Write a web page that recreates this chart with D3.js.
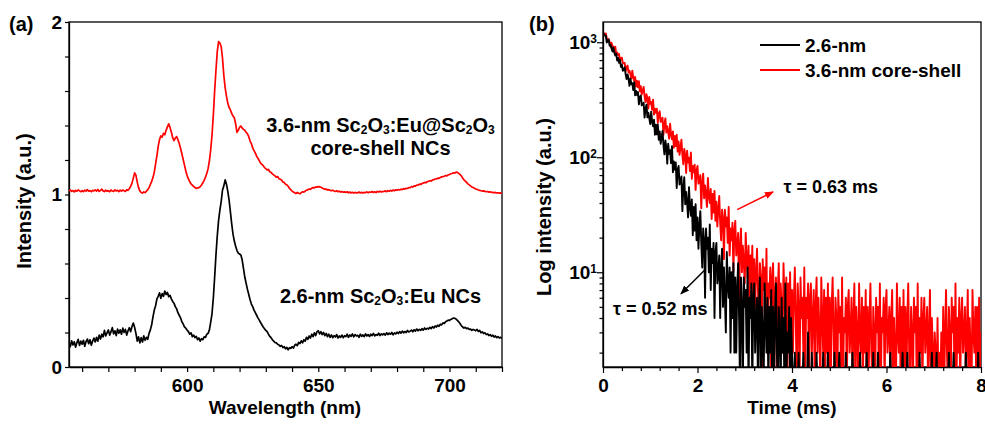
<!DOCTYPE html>
<html>
<head>
<meta charset="utf-8">
<script src="https://cdn.jsdelivr.net/npm/d3@7"></script>
<style>
  body { margin: 0; background: #fff; }
  svg { font-family: "Liberation Sans", Arial, sans-serif; font-weight: bold; }
</style>
</head>
<body>
<svg id="chart" width="985" height="425"></svg>
<script>
// ---------- (a) emission spectra, 0.5 nm sampling from 555 nm ----------
const wlStart = 555, wlStep = 0.5;
const emissionCoreShell = [
  1.020,1.026,1.018,1.023,1.015,1.024,1.019,1.027,1.021,1.016,
  1.022,1.017,1.025,1.020,1.028,1.019,1.023,1.016,1.024,1.021,
  1.027,1.020,1.029,1.018,1.024,1.031,1.021,1.017,1.025,1.019,
  1.023,1.016,1.026,1.020,1.018,1.027,1.021,1.024,1.017,1.025,
  1.020,1.026,1.022,1.018,1.028,1.024,1.035,1.048,1.066,1.095,
  1.125,1.112,1.072,1.040,1.021,1.012,1.008,1.015,1.011,1.019,
  1.028,1.040,1.058,1.076,1.098,1.130,1.178,1.226,1.280,1.318,
  1.340,1.332,1.355,1.346,1.372,1.392,1.410,1.388,1.362,1.330,
  1.312,1.326,1.336,1.318,1.296,1.268,1.236,1.204,1.170,1.138,
  1.110,1.090,1.074,1.062,1.054,1.046,1.041,1.035,1.038,1.040,
  1.045,1.055,1.068,1.082,1.100,1.122,1.150,1.195,1.260,1.345,
  1.460,1.600,1.720,1.830,1.886,1.878,1.857,1.790,1.690,1.620,
  1.570,1.530,1.505,1.490,1.470,1.455,1.445,1.410,1.360,1.372,
  1.390,1.397,1.385,1.378,1.372,1.360,1.352,1.335,1.310,1.295,
  1.270,1.255,1.240,1.222,1.210,1.196,1.182,1.175,1.168,1.156,
  1.150,1.142,1.146,1.132,1.128,1.120,1.114,1.108,1.100,1.104,
  1.092,1.088,1.084,1.072,1.070,1.060,1.056,1.048,1.036,1.028,
  1.020,1.014,1.010,1.006,1.012,1.007,1.004,1.011,1.016,1.014,
  1.020,1.024,1.028,1.032,1.030,1.036,1.040,1.038,1.044,1.042,
  1.046,1.044,1.042,1.038,1.034,1.030,1.032,1.026,1.028,1.024,
  1.022,1.025,1.020,1.018,1.022,1.016,1.019,1.014,1.017,1.013,
  1.015,1.012,1.016,1.010,1.014,1.009,1.013,1.008,1.012,1.010,
  1.010,1.014,1.009,1.013,1.008,1.012,1.011,1.015,1.010,1.014,
  1.013,1.017,1.012,1.016,1.011,1.018,1.014,1.019,1.015,1.017,
  1.018,1.021,1.016,1.022,1.019,1.024,1.020,1.026,1.022,1.027,
  1.025,1.029,1.026,1.031,1.028,1.034,1.031,1.036,1.035,1.040,
  1.040,1.046,1.043,1.050,1.048,1.055,1.054,1.060,1.058,1.064,
  1.066,1.070,1.068,1.074,1.077,1.080,1.078,1.084,1.086,1.090,
  1.090,1.095,1.094,1.099,1.102,1.104,1.106,1.110,1.108,1.114,
  1.116,1.120,1.122,1.126,1.124,1.130,1.128,1.122,1.116,1.108,
  1.096,1.085,1.078,1.070,1.062,1.056,1.050,1.044,1.040,1.036,
  1.032,1.030,1.026,1.024,1.022,1.020,1.021,1.018,1.016,1.017,
  1.014,1.016,1.012,1.013,1.010,1.012,1.009,1.010,1.008,1.009,
  1.007
];
const emissionCore = [
  0.137,0.118,0.152,0.128,0.146,0.115,0.140,0.160,0.125,0.150,
  0.132,0.155,0.120,0.148,0.162,0.135,0.158,0.126,0.150,0.168,
  0.145,0.172,0.150,0.185,0.162,0.190,0.175,0.212,0.180,0.198,
  0.215,0.185,0.205,0.228,0.192,0.210,0.182,0.220,0.196,0.215,
  0.190,0.225,0.200,0.218,0.185,0.210,0.228,0.205,0.235,0.255,
  0.230,0.195,0.150,0.175,0.140,0.170,0.145,0.180,0.155,0.172,
  0.160,0.195,0.215,0.245,0.290,0.330,0.355,0.395,0.410,0.430,
  0.398,0.425,0.410,0.440,0.420,0.432,0.408,0.415,0.395,0.380,
  0.370,0.350,0.338,0.315,0.300,0.285,0.262,0.250,0.232,0.225,
  0.214,0.205,0.190,0.198,0.176,0.185,0.170,0.178,0.158,0.168,
  0.150,0.165,0.158,0.175,0.172,0.190,0.195,0.215,0.260,0.310,
  0.400,0.520,0.650,0.760,0.850,0.910,0.960,1.026,1.050,1.085,
  1.060,1.020,0.968,0.900,0.830,0.770,0.730,0.700,0.675,0.660,
  0.655,0.649,0.620,0.570,0.520,0.485,0.450,0.420,0.390,0.365,
  0.350,0.330,0.315,0.300,0.285,0.272,0.258,0.245,0.232,0.222,
  0.212,0.205,0.190,0.178,0.170,0.158,0.150,0.142,0.140,0.132,
  0.128,0.120,0.125,0.112,0.118,0.105,0.114,0.100,0.112,0.108,
  0.118,0.110,0.126,0.132,0.124,0.142,0.136,0.152,0.140,0.158,
  0.150,0.172,0.160,0.180,0.168,0.190,0.176,0.198,0.182,0.205,
  0.210,0.192,0.205,0.188,0.200,0.182,0.195,0.176,0.190,0.172,
  0.186,0.170,0.182,0.174,0.188,0.168,0.180,0.172,0.185,0.170,
  0.182,0.176,0.190,0.172,0.186,0.178,0.192,0.175,0.188,0.180,
  0.184,0.172,0.190,0.178,0.186,0.176,0.192,0.180,0.188,0.177,
  0.190,0.182,0.195,0.180,0.188,0.184,0.196,0.182,0.192,0.186,
  0.194,0.185,0.198,0.188,0.196,0.190,0.200,0.186,0.198,0.192,
  0.202,0.194,0.205,0.196,0.208,0.198,0.206,0.200,0.212,0.203,
  0.208,0.214,0.204,0.216,0.208,0.220,0.210,0.218,0.212,0.222,
  0.214,0.226,0.218,0.224,0.220,0.230,0.222,0.234,0.226,0.238,
  0.232,0.242,0.236,0.248,0.244,0.256,0.252,0.262,0.266,0.272,
  0.270,0.276,0.280,0.284,0.282,0.278,0.270,0.262,0.252,0.240,
  0.232,0.226,0.230,0.222,0.226,0.218,0.220,0.212,0.218,0.214,
  0.210,0.218,0.206,0.212,0.198,0.204,0.194,0.198,0.188,0.192,
  0.182,0.188,0.178,0.184,0.174,0.180,0.170,0.176,0.168,0.172,
  0.166
];
const wlTicks = d3.range(560, 721, 10);
const wlLabels = [600, 650, 700];
const intensityTicks = [0, 0.2, 0.4, 0.6, 0.8, 1, 1.2, 1.4, 1.6, 1.8, 2];
const intensityLabels = [0, 1, 2];

// ---------- (b) luminescence decay counts, 0.02 ms sampling ----------
const tStep = 0.02;
const decayCore = [
  1240,1164,1145,1139,995,1041,1054,935,949,889,
  832,899,813,768,792,692,730,663,702,610,
  639,564,583,605,524,479,524,486,418,482,
  432,441,384,450,345,377,348,369,288,334,
  344,283,286,298,221,264,287,222,244,218,
  194,249,204,186,212,157,192,158,193,142,
  168,131,150,169,127,106,140,122,88,131,
  107,115,89,125,74,92,78,90,54,78,
  84,58,61,68,34,55,67,39,50,40,
  30,55,37,31,43,21,37,23,39,19,
  30,16,25,34,18,11,24,19,6,24,
  16,20,10,26,7,16,12,18,4,15,
  18,8,10,14,4,11,16,5,11,6,
  3,15,8,6,11,2,10,4,12,2,
  9,2,7,12,4,1,9,5,1,9,
  5,7,2,11,1,6,4,8,1,6,
  8,2,4,6,1,5,9,1,5,3,
  1,8,4,2,6,1,5,2,7,1,
  5,1,4,8,2,1,5,3,1,6,
  2,4,1,8,1,3,2,5,1,4,
  2,1,1,2,1,1,1,2,1,1,
  1,1,2,1,1,1,1,3,1,1,
  1,2,1,1,1,1,2,1,1,1,
  1,1,1,2,1,1,1,1,2,1,
  1,1,1,1,1,2,1,1,1,1,
  2,1,1,1,1,1,1,2,1,1,
  1,1,1,1,2,1,1,1,1,1,
  1,1,2,1,1,1,1,1,1,2,
  1,1,1,1,1,1,2,1,1,1,
  1,2,1,1,1,1,1,1,1,1,
  1,1,1,1,2,1,1,1,1,1,
  1,1,1,1,1,1,1,2,1,1,
  1,1,2,1,1,1,1,1,1,1,
  1,1,1,1,1,2,1,1,1,1,
  1,1,1,1,1,1,1,1,2,1,
  1,1,1,2,1,1,1,1,1,1,
  1,1,1,1,1,1,2,1,1,1,
  1,2,1,1,1,1,1,1,1,1,
  1,1,1,1,2,1,1,1,1,1,
  1,1,1,1,1,1,1,2,1,1,
  1
];
const decayCoreShell = [
  1240,1154,1172,1194,1081,1014,1066,1011,915,992,
  919,920,847,914,785,813,772,789,688,732,
  734,658,654,661,562,608,627,546,566,529,
  483,566,494,463,500,411,462,406,458,375,
  414,352,379,409,339,302,353,324,265,334,
  291,302,259,317,235,264,243,264,199,241,
  251,203,208,221,157,196,218,164,186,165,
  145,196,158,143,168,121,153,125,157,112,
  137,105,122,142,105,87,118,104,73,114,
  90,99,76,110,65,84,74,86,52,77,
  84,59,62,70,36,60,72,44,57,47,
  37,66,46,40,53,29,48,33,51,28,
  41,25,35,46,27,19,35,29,13,35,
  25,30,18,37,14,24,19,27,10,23,
  28,14,17,22,5,17,24,10,17,12,
  8,22,13,9,17,5,14,8,17,5,
  13,5,10,16,7,3,12,9,1,13,
  7,11,5,16,2,8,6,11,1,9,
  12,4,6,9,1,7,12,3,8,5,
  2,12,6,4,9,1,8,3,10,2,
  7,2,6,11,4,1,8,5,1,9,
  4,6,2,11,1,6,4,8,1,6,
  8,2,4,7,1,5,9,2,6,3,
  1,9,4,2,7,1,6,2,8,1,
  6,1,5,9,3,1,6,4,1,7,
  3,5,1,9,1,4,3,6,1,5,
  7,2,3,6,1,4,8,1,5,3,
  1,8,3,2,6,1,5,2,7,1,
  5,1,4,8,2,1,5,3,1,6,
  3,5,1,8,1,4,3,6,1,5,
  7,2,3,5,1,4,7,1,4,2,
  1,8,3,2,6,1,5,1,7,1,
  5,1,4,8,2,1,5,3,1,6,
  3,5,1,8,1,4,2,6,1,4,
  6,2,3,5,1,3,7,1,4,2,
  1,3,2,1,4,1,2,1,3,1,
  5,1,3,7,2,1,5,3,1,6,
  3,5,1,8,1,4,2,6,1,4,
  6,2,3,5,1,3,7,1,4,2,
  1,7,3,2,5,1,5,1,6,1,
  3
];
const timeTicks = d3.range(0, 21).map(i => i * 0.4);
const timeLabels = [0, 2, 4, 6, 8];
const logTicks = [2,3,4,5,6,7,8,9,10,20,30,40,50,60,70,80,90,100,200,300,400,500,600,700,800,900,1000];
const logLabels = [10, 100, 1000];

// annotation anchors in data units: [time (ms), counts]
const tauShell = { text: "τ = 0.63 ms", at: [3.82, 49], arrowFrom: [2.84, 35], arrowTo: [3.60, 50] };
const tauCore  = { text: "τ = 0.52 ms", at: [0.21, 4.25], arrowFrom: [2.16, 10.5], arrowTo: [1.65, 6.5] };
const legendItems = [
  { label: "2.6-nm", color: "#000000" },
  { label: "3.6-nm core-shell", color: "#ff0000" }
];

// ---------- drawing ----------
const svg = d3.select("#chart");
const defs = svg.append("defs");
const INK = "#000";

function addClip(id, x0, x1, y0, y1) {
  defs.append("clipPath").attr("id", id)
    .append("rect").attr("x", x0).attr("y", y0).attr("width", x1 - x0).attr("height", y1 - y0);
}
function styleAxis(g, fontSize) {
  g.select(".domain").attr("stroke", INK).attr("stroke-width", 1.3);
  g.selectAll(".tick line").attr("stroke", INK).attr("stroke-width", 1.2);
  g.selectAll(".tick text").attr("fill", INK).attr("font-size", fontSize)
    .attr("font-weight", "bold").attr("font-family", '"Liberation Sans", Arial, sans-serif');
}
// text with chemical-formula subscripts: parts are [string, isSubscript]
function richText(sel, parts) {
  let shifted = false;
  parts.forEach(([s, sub]) => {
    const t = sel.append("tspan").text(s);
    if (sub && !shifted) { t.attr("dy", 2).attr("font-size", 12); shifted = true; }
    else if (sub) { t.attr("font-size", 12); }
    else if (shifted) { t.attr("dy", -2); shifted = false; }
  });
}

// ---- panel (a)
const xA = d3.scaleLinear().domain([555, 720]).range([69, 502]);
const yA = d3.scaleLinear().domain([0, 2]).range([367, 22]);
addClip("clipA", 69, 502, 22, 367);

const gAx = svg.append("g").attr("transform", `translate(0,${yA(0)})`)
  .call(d3.axisBottom(xA).tickValues(wlTicks).tickSize(5).tickSizeOuter(0).tickPadding(7)
    .tickFormat(d => wlLabels.includes(d) ? d : ""));
styleAxis(gAx, 19);
const gAy = svg.append("g").attr("transform", `translate(${xA(555)},0)`)
  .call(d3.axisLeft(yA).tickValues(intensityTicks).tickSize(4).tickSizeOuter(0).tickPadding(3)
    .tickFormat(d => intensityLabels.includes(d) ? d : ""));
styleAxis(gAy, 19);
svg.append("rect").attr("x", 69).attr("y", 22).attr("width", 433).attr("height", 345)
  .attr("fill", "none").attr("stroke", INK).attr("stroke-width", 1.3);

const lineA = d3.line().x((d, i) => xA(wlStart + i * wlStep)).y(d => yA(d));
const plotA = svg.append("g").attr("clip-path", "url(#clipA)");
plotA.append("path").datum(emissionCore).attr("d", lineA)
  .attr("fill", "none").attr("stroke", "#000").attr("stroke-width", 1.7).attr("stroke-linejoin", "round");
plotA.append("path").datum(emissionCoreShell).attr("d", lineA)
  .attr("fill", "none").attr("stroke", "#ff0000").attr("stroke-width", 1.7).attr("stroke-linejoin", "round");

const lblShell1 = svg.append("text").attr("x", xA(673.7)).attr("y", yA(1.362))
  .attr("text-anchor", "middle").attr("font-size", 20).attr("fill", INK);
richText(lblShell1, [["3.6-nm Sc", 0], ["2", 1], ["O", 0], ["3", 1], [":Eu@Sc", 0], ["2", 1], ["O", 0], ["3", 1]]);
svg.append("text").attr("x", xA(673.7)).attr("y", yA(1.229))
  .attr("text-anchor", "middle").attr("font-size", 20).attr("fill", INK).text("core-shell NCs");
const lblCore = svg.append("text").attr("x", xA(673.7)).attr("y", yA(0.371))
  .attr("text-anchor", "middle").attr("font-size", 20).attr("fill", INK);
richText(lblCore, [["2.6-nm Sc", 0], ["2", 1], ["O", 0], ["3", 1], [":Eu NCs", 0]]);

svg.append("text").attr("x", 285).attr("y", 414).attr("text-anchor", "middle")
  .attr("font-size", 19).attr("fill", INK).text("Wavelength (nm)");
svg.append("text").attr("transform", "translate(31,201) rotate(-90)").attr("text-anchor", "middle")
  .attr("font-size", 20).attr("fill", INK).text("Intensity (a.u.)");
svg.append("text").attr("x", 9).attr("y", 31).attr("font-size", 20).attr("fill", INK).text("(a)");

// ---- panel (b)
const xB = d3.scaleLinear().domain([0, 8]).range([603, 981]);
const yB = d3.scaleLog().domain([1.5, 1500]).range([367, 22]);
addClip("clipB", 603, 981, 22, 367);

const gBx = svg.append("g").attr("transform", `translate(0,${yB(1.5)})`)
  .call(d3.axisBottom(xB).tickValues(timeTicks).tickSize(4).tickSizeOuter(0).tickPadding(8)
    .tickFormat(d => timeLabels.some(v => Math.abs(v - d) < 1e-6) ? Math.round(d) : ""));
styleAxis(gBx, 19);
gBx.selectAll(".tick line").filter(d => timeLabels.some(v => Math.abs(v - d) < 1e-6)).attr("y2", 6);

const gBy = svg.append("g").attr("transform", `translate(${xB(0)},0)`)
  .call(d3.axisLeft(yB).tickValues(logTicks).tickSize(3.5).tickSizeOuter(0).tickPadding(5).tickFormat(() => ""));
styleAxis(gBy, 19);
gBy.selectAll(".tick").filter(d => logLabels.includes(d)).each(function (d) {
  d3.select(this).select("line").attr("x2", -6);
  const t = d3.select(this).select("text").attr("x", -6);
  t.append("tspan").text("10");
  t.append("tspan").attr("dy", "-0.5em").attr("font-size", 12).text(Math.round(Math.log10(d)));
});
svg.append("rect").attr("x", 603).attr("y", 22).attr("width", 378).attr("height", 345)
  .attr("fill", "none").attr("stroke", INK).attr("stroke-width", 1.3);

// the core-shell trace goes underneath, the core trace is drawn over it
const lineB = d3.line().x((d, i) => xB(i * tStep)).y(d => yB(d));
const plotB = svg.append("g").attr("clip-path", "url(#clipB)");
plotB.append("path").datum(decayCoreShell).attr("d", lineB)
  .attr("fill", "none").attr("stroke", "#ff0000").attr("stroke-width", 1.9).attr("stroke-linejoin", "round");
plotB.append("path").datum(decayCore).attr("d", lineB)
  .attr("fill", "none").attr("stroke", "#000").attr("stroke-width", 1.9).attr("stroke-linejoin", "round");

// legend
legendItems.forEach((it, i) => {
  const y = 45 + i * 25;
  svg.append("line").attr("x1", 760).attr("x2", 800).attr("y1", y).attr("y2", y)
    .attr("stroke", it.color).attr("stroke-width", 2);
  svg.append("text").attr("x", 805).attr("y", y).attr("dy", "0.35em")
    .attr("font-size", 19).attr("fill", INK).text(it.label);
});

// lifetime annotations
function arrowMarker(id, color) {
  defs.append("marker").attr("id", id).attr("viewBox", "0 0 10 10").attr("refX", 9).attr("refY", 5)
    .attr("markerWidth", 6).attr("markerHeight", 6).attr("orient", "auto")
    .append("path").attr("d", "M0,1L10,5L0,9Z").attr("fill", color);
}
arrowMarker("arrRed", "#ff0000");
arrowMarker("arrBlack", "#000");
[[tauShell, "#ff0000", "arrRed"], [tauCore, "#000", "arrBlack"]].forEach(([a, color, mk]) => {
  svg.append("line")
    .attr("x1", xB(a.arrowFrom[0])).attr("y1", yB(a.arrowFrom[1]))
    .attr("x2", xB(a.arrowTo[0])).attr("y2", yB(a.arrowTo[1]))
    .attr("stroke", color).attr("stroke-width", 1.5).attr("marker-end", `url(#${mk})`);
  svg.append("text").attr("x", xB(a.at[0])).attr("y", yB(a.at[1]))
    .attr("font-size", 18).attr("fill", INK).text(a.text);
});

svg.append("text").attr("x", 792).attr("y", 414).attr("text-anchor", "middle")
  .attr("font-size", 19).attr("fill", INK).text("Time (ms)");
svg.append("text").attr("transform", "translate(551,207) rotate(-90)").attr("text-anchor", "middle")
  .attr("font-size", 20).attr("fill", INK).text("Log intensity (a.u.)");
svg.append("text").attr("x", 529).attr("y", 31).attr("font-size", 20).attr("fill", INK).text("(b)");
</script>
</body>
</html>
